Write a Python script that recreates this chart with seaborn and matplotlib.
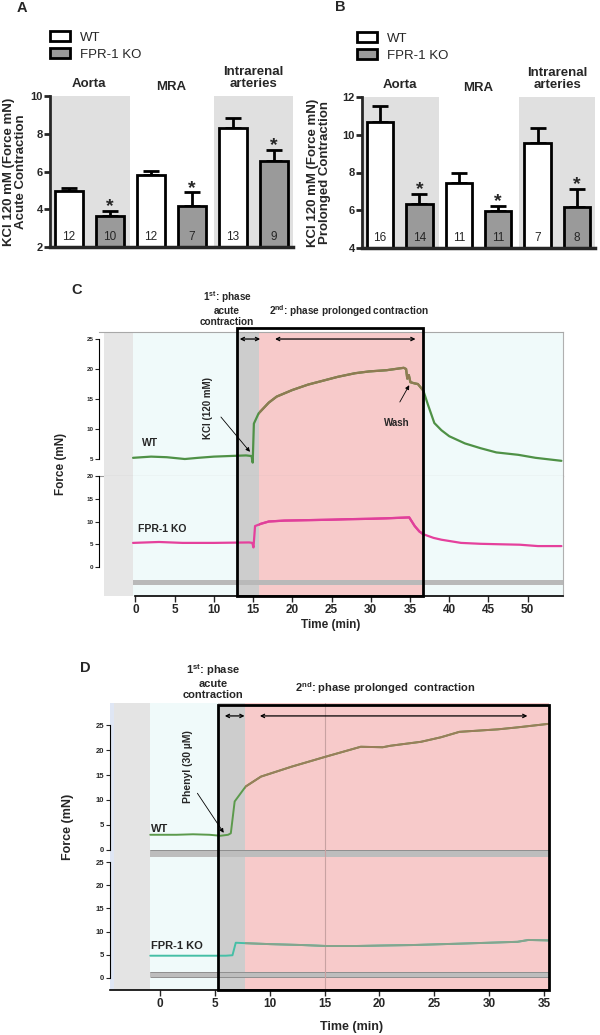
import numpy as np
import pandas as pd
import seaborn as sns
import matplotlib
matplotlib.use('Agg')
from matplotlib import pyplot as plt
from matplotlib.patches import Patch, Rectangle
from matplotlib.transforms import blended_transform_factory

# Bar charts: KCl 120 mM contraction (mean, SEM, n)

vessels = ['Aorta', 'MRA', 'Intrarenal\narteries']
genotypes = ['WT', 'FPR-1 KO']

acute_wt = [4.95, 5.80, 8.30]
acute_wt_sem = [0.18, 0.22, 0.52]
acute_ko = [3.63, 4.17, 6.57]
acute_ko_sem = [0.26, 0.72, 0.55]
acute_n_wt = [12, 12, 13]
acute_n_ko = [10, 7, 9]

prolonged_wt = [10.68, 7.46, 9.57]
prolonged_wt_sem = [0.86, 0.54, 0.81]
prolonged_ko = [6.32, 5.97, 6.18]
prolonged_ko_sem = [0.54, 0.28, 0.95]
prolonged_n_wt = [16, 11, 7]
prolonged_n_ko = [14, 11, 8]

# Force traces (time in min, force in mN)

kcl_time_wt = [-0.3, 2, 4, 6.3, 8, 10, 12, 14.1, 14.8, 14.95,
               15.1, 15.7, 17, 18, 20, 22, 25.8, 28, 29.8, 32,
               34.2, 34.5, 34.65, 34.85, 35.05, 35.6, 36.0, 36.7, 37.3, 38.1,
               39, 40, 42, 44, 46, 48.8, 51, 54.3]
kcl_force_wt = [5.2, 5.4, 5.3, 5.0, 5.2, 5.4, 5.5, 5.6, 5.5, 4.4,
                10.9, 12.6, 14.4, 15.4, 16.5, 17.4, 18.7, 19.3, 19.6, 19.8,
                20.2, 20.0, 18.4, 19.0, 17.8, 17.6, 17.5, 16.4, 14.0, 11.0,
                9.8, 8.8, 7.6, 6.8, 6.1, 5.7, 5.2, 4.7]

kcl_time_ko = [-0.3, 3, 6, 10, 14.5, 14.9, 15.05, 15.25, 16, 17,
               19, 22, 25, 27, 30, 32, 34.9, 35.6, 36.2, 36.7,
               38, 39, 41.5, 44, 46.4, 49, 51.3, 54.3]
kcl_force_ko = [5.3, 5.5, 5.3, 5.3, 5.4, 5.3, 4.3, 9.0, 9.5, 10.0,
                10.2, 10.3, 10.4, 10.5, 10.6, 10.7, 10.9, 9.0, 7.8, 7.2,
                6.4, 6.0, 5.3, 5.1, 5.0, 4.9, 4.6, 4.6]

phe_time_wt = [-0.9, 1.5, 3, 4.5, 5.5, 6.2, 6.45, 6.8, 7.8, 9.2,
               12, 15.1, 18.3, 20.3, 21, 23.8, 25.6, 27.3, 30.8, 32.6, 35.4]
phe_force_wt = [3.0, 3.0, 3.1, 3.0, 2.8, 3.0, 3.3, 9.7, 12.7, 14.7,
                16.7, 18.7, 20.7, 20.6, 20.9, 21.7, 22.6, 23.7, 24.2, 24.6, 25.3]

phe_time_ko = [-0.9, 2, 4, 6.0, 6.6, 6.9, 7.8, 10, 13, 15.1,
               18, 20.3, 23, 27.3, 30, 32.6, 33.6, 35.4]
phe_force_ko = [4.8, 4.8, 4.8, 4.8, 4.9, 7.6, 7.5, 7.3, 7.1, 6.9,
                6.9, 7.0, 7.1, 7.4, 7.6, 7.8, 8.2, 8.1]

# Style

sns.set_theme(style='white')
plt.rcParams['font.family'] = ['Liberation Sans', 'DejaVu Sans']
plt.rcParams['mathtext.fontset'] = 'custom'
plt.rcParams['mathtext.rm'] = 'Liberation Sans'
plt.rcParams['mathtext.bf'] = 'Liberation Sans:bold'

bar_colors = {'WT': 'white', 'FPR-1 KO': '#9a9a9a'}
pink = '#f7caca'
acute_gray = '#cdcdcd'
area_col = '#f0fafa'

W, H = 600, 1035
fig = plt.figure(figsize=(W / 100, H / 100), dpi=100)


def px_rect(x0, y0, x1, y1):
    return [x0 / W, 1 - y1 / H, (x1 - x0) / W, (y1 - y0) / H]


def fy(y):
    return 1 - y / H


# Panels A and B

def bar_panel(pos, wt, wt_sem, ko, ko_sem, n_wt, n_ko, ylim, yticks, ylabel, ylabel_x, legend_xy):
    ax = fig.add_axes(pos)
    df = pd.DataFrame({'vessel': vessels * 2,
                       'genotype': [genotypes[0]] * 3 + [genotypes[1]] * 3,
                       'force': wt + ko})
    sns.barplot(data=df, x='vessel', y='force', hue='genotype', hue_order=genotypes,
                palette=bar_colors, width=1.0, gap=0.33, edgecolor='black',
                linewidth=2, errorbar=None, legend=False, ax=ax)
    for lo, hi in [(-0.45, 0.5), (1.52, 2.48)]:
        ax.axvspan(lo, hi, color='#e0e0e0', lw=0, zorder=0)

    bars = sorted([p for c in ax.containers for p in c], key=lambda p: p.get_x())
    xs = [p.get_x() + p.get_width() / 2 for p in bars]
    hs = [p.get_height() for p in bars]
    sems = [v for pair in zip(wt_sem, ko_sem) for v in pair]
    ns = [v for pair in zip(n_wt, n_ko) for v in pair]
    ax.errorbar(xs, hs, yerr=[np.zeros(len(hs)), sems], fmt='none', ecolor='black',
                elinewidth=2, capsize=6, capthick=2, zorder=0.9)
    for i, (x, h, s, n) in enumerate(zip(xs, hs, sems, ns)):
        ax.text(x, 0.065, str(n), transform=ax.get_xaxis_transform(),
                ha='center', va='center', fontsize=8.5)
        if i % 2 == 1:
            ax.annotate('*', xy=(x, h + s), xytext=(0, -3), textcoords='offset points',
                        ha='center', va='bottom', fontsize=14, fontweight='bold')

    for i, name in enumerate(vessels):
        ax.text(i, 1.02 if name == 'MRA' else 1.04, name, transform=ax.get_xaxis_transform(),
                ha='center', va='bottom', fontsize=9.5, fontweight='bold', linespacing=1.0)

    ax.set_xlim(-0.48, 2.48)
    ax.set_ylim(ylim)
    ax.set_yticks(yticks)
    ax.set_xlabel('')
    ax.set_ylabel(ylabel, fontsize=9.5, fontweight='bold', linespacing=1.0)
    ax.yaxis.set_label_coords(ylabel_x, 0.5)
    sns.despine(ax=ax)
    ax.spines['left'].set_linewidth(2)
    ax.spines['bottom'].set_linewidth(2.5)
    ax.tick_params(axis='x', length=0, labelbottom=False)
    ax.tick_params(axis='y', left=True, length=4, width=2, labelsize=8, pad=1)
    for lab in ax.get_yticklabels():
        lab.set_fontweight('bold')

    handles = [Patch(facecolor=bar_colors[g], edgecolor='black', linewidth=2, label=g)
               for g in genotypes]
    fig.legend(handles=handles, loc='upper left',
               bbox_to_anchor=(legend_xy[0] / W, fy(legend_xy[1])),
               frameon=False, fontsize=9.5, handlelength=1.5, handleheight=0.8,
               handletextpad=0.8, labelspacing=0.35, borderpad=0, borderaxespad=0)
    return ax


bar_panel(px_rect(50, 96, 293, 247), acute_wt, acute_wt_sem, acute_ko, acute_ko_sem,
          acute_n_wt, acute_n_ko, (2, 10), [2, 4, 6, 8, 10],
          'KCl 120 mM (Force mN)\nAcute Contraction', -0.095, (50, 31))
bar_panel(px_rect(362, 97, 595, 248), prolonged_wt, prolonged_wt_sem, prolonged_ko,
          prolonged_ko_sem, prolonged_n_wt, prolonged_n_ko, (4, 12), [4, 6, 8, 10, 12],
          'KCl 120 mM (Force mN)\nProlonged Contraction', -0.135, (357, 32))


# Panels C and D

def style_trace_ax(ax, xlim, ylim, yticks, ybounds, ytick_fs):
    ax.set_xlim(xlim)
    ax.set_ylim(ylim)
    ax.set_yticks(yticks)
    ax.set_facecolor('none')
    for s in ['top', 'right', 'bottom']:
        ax.spines[s].set_visible(False)
    ax.spines['left'].set_bounds(*ybounds)
    ax.spines['left'].set_linewidth(0.8)
    ax.spines['left'].set_color('black')
    ax.tick_params(axis='y', left=True, direction='out', length=3, width=0.8,
                   labelsize=ytick_fs, pad=1)
    ax.tick_params(axis='x', bottom=False, labelbottom=False)
    for lab in ax.get_yticklabels():
        lab.set_fontweight('bold')
    ax.set_xlabel('')
    ax.set_ylabel('')


def backgrounds(ax, strips, area, acute, prolonged):
    for lo, hi, col in strips:
        ax.axvspan(lo, hi, color=col, lw=0, zorder=0)
    ax.axvspan(area[0], area[1], color=area_col, lw=0, zorder=0)
    ax.axvspan(acute[0], acute[1], color=acute_gray, lw=0, zorder=0.1)
    ax.axvspan(prolonged[0], prolonged[1], color=pink, lw=0, zorder=0.1)


def trace(ax, t, f, color, pink_color, prolonged, lw=1.6):
    sns.lineplot(x=t, y=f, ax=ax, color=color, lw=lw, estimator=None, sort=False)
    sns.lineplot(x=t, y=f, ax=ax, color=pink_color, lw=lw, estimator=None, sort=False)
    clip = Rectangle((prolonged[0], -50), prolonged[1] - prolonged[0], 100,
                     transform=ax.transData)
    ax.lines[-1].set_clip_path(clip)


def time_axis(ax, xticks, xmin, xmax):
    ax.spines['bottom'].set_visible(True)
    ax.spines['bottom'].set_bounds(xmin, xmax)
    ax.spines['bottom'].set_color('black')
    ax.spines['bottom'].set_linewidth(1.2)
    ax.set_xticks(xticks)
    ax.tick_params(axis='x', bottom=True, labelbottom=True, direction='out', length=4,
                   width=1, labelsize=8.5, pad=2)
    for lab in ax.get_xticklabels():
        lab.set_fontweight('bold')


def arrows(ax, y, spans):
    for a, b in spans:
        ax.annotate('', xy=(b, y), xytext=(a, y),
                    arrowprops=dict(arrowstyle='<->', color='black', lw=0.9,
                                    mutation_scale=6, shrinkA=0, shrinkB=0))


# C: KCl 120 mM
c_xlim = (-4.64, 54.5)
c_acute = (12.9, 15.8)
c_prol = (15.8, 36.7)
c_strips = [(-4.0, -0.3, '#e6e6e6')]

ax_c1 = fig.add_axes(px_rect(99, 332, 563, 476))
ax_c2 = fig.add_axes(px_rect(99, 476, 563, 596))
for ax in (ax_c1, ax_c2):
    backgrounds(ax, c_strips, (-0.3, 54.5), c_acute, c_prol)
trace(ax_c1, kcl_time_wt, kcl_force_wt, '#4f9146', '#8f7b52', c_prol)
trace(ax_c2, kcl_time_ko, kcl_force_ko, '#e5409c', '#e0409a', c_prol)
style_trace_ax(ax_c1, c_xlim, (2.17, 26.17), [5, 10, 15, 20, 25], (5, 25), 4.5)
style_trace_ax(ax_c2, c_xlim, (-6.37, 20), [0, 5, 10, 15, 20], (0, 20), 4.5)
for ax in (ax_c1, ax_c2):
    ax.spines['right'].set_visible(True)
    ax.spines['right'].set_color('#b0b0b0')
    ax.spines['right'].set_linewidth(0.8)
ax_c1.spines['top'].set_visible(True)
ax_c1.spines['top'].set_color('#a8a8a8')
ax_c1.spines['top'].set_linewidth(0.8)
ax_c1.spines['bottom'].set_visible(True)
ax_c1.spines['bottom'].set_color('#9a9a9a')
ax_c1.spines['bottom'].set_linewidth(0.8)
ax_c2.fill_between([-0.3, 54.5], -3.96, -2.86, color='#b9b9b9', lw=0, zorder=0.2)
time_axis(ax_c2, list(range(0, 55, 5)), 0, 54.5)

ax_c1.text(0.85, 7.75, 'WT', fontsize=7.5, fontweight='bold', va='center')
ax_c2.text(0.3, 8.3, 'FPR-1 KO', fontsize=7.5, fontweight='bold', va='center')
ax_c1.text(9.2, 13.5, 'KCl (120 mM)', rotation=90, ha='center', va='center',
           fontsize=7, fontweight='bold')
ax_c1.annotate('', xy=(14.6, 6.2), xytext=(10.9, 12.0),
               arrowprops=dict(arrowstyle='-|>', color='black', lw=0.6,
                               mutation_scale=6, shrinkA=0, shrinkB=0))
ax_c1.text(33.3, 11.0, 'Wash', ha='center', va='center', fontsize=7, fontweight='bold')
ax_c1.annotate('', xy=(34.9, 17.3), xytext=(33.7, 14.5),
               arrowprops=dict(arrowstyle='-|>', color='black', lw=0.6,
                               mutation_scale=6, shrinkA=0, shrinkB=0))
arrows(ax_c1, 25, [(13.3, 15.9), (17.8, 35.7)])

box_c = Rectangle((12.9, fy(596)), 36.7 - 12.9, fy(328) - fy(596), fill=False,
                  edgecolor='black', lw=2,
                  transform=blended_transform_factory(ax_c2.transData, fig.transFigure))
fig.add_artist(box_c)

# D: Phenylephrine 30 uM
d_xlim = (-4.57, 35.47)
d_acute = (5.3, 7.7)
d_prol = (7.7, 35.47)
d_strips = [(-4.57, -4.2, '#dfe6f4'), (-4.2, -0.9, '#e4e4e4')]

ax_d1 = fig.add_axes(px_rect(110, 703, 549, 857))
ax_d2 = fig.add_axes(px_rect(110, 857, 549, 990))
for ax in (ax_d1, ax_d2):
    backgrounds(ax, d_strips, (-0.9, 35.47), d_acute, d_prol)
    ax.axvline(15, color='#c8a2a2', lw=0.8, zorder=0.3)
trace(ax_d1, phe_time_wt, phe_force_wt, '#5c9a4c', '#9a7e5a', d_prol, lw=1.4)
trace(ax_d2, phe_time_ko, phe_force_ko, '#45bfa6', '#86a48c', d_prol, lw=1.4)
style_trace_ax(ax_d1, d_xlim, (-1.47, 29.5), [0, 5, 10, 15, 20, 25], (0, 25), 5.5)
style_trace_ax(ax_d2, d_xlim, (-2.6, 26.1), [0, 5, 10, 15, 20, 25], (0, 25), 5.5)
ax_d1.fill_between([-0.9, 35.47], -1.47, -0.1, color='#bdbdbd', lw=0, zorder=0.2)
ax_d1.hlines([-0.1, -1.4], -0.9, 35.47, color='#8f8f8f', lw=0.7, zorder=0.25)
ax_d2.fill_between([-0.9, 35.47], 0.3, 1.3, color='#bdbdbd', lw=0, zorder=0.2)
ax_d2.hlines([0.3, 1.3], -0.9, 35.47, color='#8f8f8f', lw=0.7, zorder=0.25)
time_axis(ax_d2, list(range(0, 40, 5)), -4.57, 35.47)

ax_d1.text(-0.8, 4.2, 'WT', fontsize=8, fontweight='bold', va='center')
ax_d2.text(-0.8, 6.9, 'FPR-1 KO', fontsize=8, fontweight='bold', va='center')
ax_d1.text(2.5, 16.7, 'Phenyl (30 µM)', rotation=90, ha='center', va='center',
           fontsize=7.5, fontweight='bold')
ax_d1.annotate('', xy=(5.8, 3.4), xytext=(3.4, 11.35),
               arrowprops=dict(arrowstyle='-|>', color='black', lw=0.6,
                               mutation_scale=6, shrinkA=0, shrinkB=0))
arrows(ax_d1, 26.9, [(5.9, 7.7), (9.1, 33.5)])

box_d = Rectangle((5.3, fy(990)), 35.47 - 5.3, fy(705) - fy(990), fill=False,
                  edgecolor='black', lw=2,
                  transform=blended_transform_factory(ax_d2.transData, fig.transFigure))
fig.add_artist(box_d)

# Figure level texts

for letter, x, y in [('A', 22, 8), ('B', 340, 7), ('C', 77, 290), ('D', 85, 668)]:
    fig.text(x / W, fy(y), letter, ha='center', va='center', fontsize=10.5, fontweight='bold')

fig.text(227 / W, fy(308), r'1$^{\mathbf{st}}$: phase' + '\nacute\ncontraction',
         ha='center', va='center', fontsize=7.2, fontweight='bold', linespacing=1.15)
fig.text(348.5 / W, fy(311), r'2$^{\mathbf{nd}}$: phase prolonged contraction',
         ha='center', va='center', fontsize=7.2, fontweight='bold')
fig.text(213 / W, fy(681), r'1$^{\mathbf{st}}$: phase' + '\nacute\ncontraction',
         ha='center', va='center', fontsize=8, fontweight='bold', linespacing=1.1)
fig.text(385 / W, fy(688), r'2$^{\mathbf{nd}}$: phase prolonged  contraction',
         ha='center', va='center', fontsize=8, fontweight='bold')

fig.text(61.5 / W, fy(464), 'Force (mN)', rotation=90, ha='center', va='center',
         fontsize=8.5, fontweight='bold')
fig.text(68 / W, fy(827), 'Force (mN)', rotation=90, ha='center', va='center',
         fontsize=9, fontweight='bold')
fig.text(331 / W, fy(625), 'Time (min)', ha='center', va='center',
         fontsize=8.5, fontweight='bold')
fig.text(352 / W, fy(1027), 'Time (min)', ha='center', va='center',
         fontsize=9, fontweight='bold')

fig.savefig('out.png', dpi=100)
